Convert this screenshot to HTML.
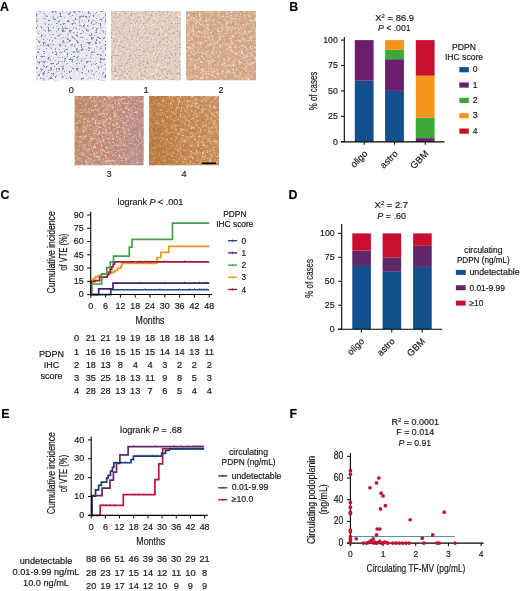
<!DOCTYPE html>
<html><head><meta charset="utf-8"><style>
html,body{margin:0;padding:0;background:#fff;}
body{width:520px;height:591px;overflow:hidden;}
svg{display:block;font-family:"Liberation Sans",sans-serif;filter:blur(0.35px);}
text{stroke:#161616;stroke-width:0.18px;}
</style></head><body>
<svg width="520" height="591" viewBox="0 0 520 591">
<defs><filter id="bl" x="0" y="0" width="100%" height="100%"><feGaussianBlur stdDeviation="0.55"/></filter><filter id="tx0" x="0" y="0" width="100%" height="100%"><feTurbulence type="fractalNoise" baseFrequency="0.35" numOctaves="2" seed="21"/><feColorMatrix type="matrix" values="0 0 0 0 0.706  0 0 0 0 0.706  0 0 0 0 0.831  9.0 0 0 0 -4.5"/></filter><filter id="tx1" x="0" y="0" width="100%" height="100%"><feTurbulence type="fractalNoise" baseFrequency="0.42" numOctaves="2" seed="7"/><feColorMatrix type="matrix" values="0 0 0 0 0.204  0 0 0 0 0.212  0 0 0 0 0.416  9.0 0 0 0 -5.175"/></filter><filter id="tx2" x="0" y="0" width="100%" height="100%"><feTurbulence type="fractalNoise" baseFrequency="0.25" numOctaves="2" seed="22"/><feColorMatrix type="matrix" values="0 0 0 0 0.784  0 0 0 0 0.659  0 0 0 0 0.596  9.0 0 0 0 -4.5"/></filter><filter id="tx3" x="0" y="0" width="100%" height="100%"><feTurbulence type="fractalNoise" baseFrequency="0.5" numOctaves="2" seed="2"/><feColorMatrix type="matrix" values="0 0 0 0 0.478  0 0 0 0 0.392  0 0 0 0 0.384  9.0 0 0 0 -5.040000000000001"/></filter><filter id="tx4" x="0" y="0" width="100%" height="100%"><feTurbulence type="fractalNoise" baseFrequency="0.45" numOctaves="2" seed="32"/><feColorMatrix type="matrix" values="0 0 0 0 0.980  0 0 0 0 0.957  0 0 0 0 0.957  9.0 0 0 0 -5.22"/></filter><filter id="tx5" x="0" y="0" width="100%" height="100%"><feTurbulence type="fractalNoise" baseFrequency="0.25" numOctaves="2" seed="23"/><feColorMatrix type="matrix" values="0 0 0 0 0.784  0 0 0 0 0.580  0 0 0 0 0.424  9.0 0 0 0 -4.41"/></filter><filter id="tx6" x="0" y="0" width="100%" height="100%"><feTurbulence type="fractalNoise" baseFrequency="0.5" numOctaves="2" seed="3"/><feColorMatrix type="matrix" values="0 0 0 0 0.541  0 0 0 0 0.353  0 0 0 0 0.298  9.0 0 0 0 -4.95"/></filter><filter id="tx7" x="0" y="0" width="100%" height="100%"><feTurbulence type="fractalNoise" baseFrequency="0.45" numOctaves="2" seed="33"/><feColorMatrix type="matrix" values="0 0 0 0 0.965  0 0 0 0 0.902  0 0 0 0 0.878  9.0 0 0 0 -5.22"/></filter><filter id="tx8" x="0" y="0" width="100%" height="100%"><feTurbulence type="fractalNoise" baseFrequency="0.25" numOctaves="2" seed="24"/><feColorMatrix type="matrix" values="0 0 0 0 0.690  0 0 0 0 0.478  0 0 0 0 0.353  9.0 0 0 0 -4.32"/></filter><filter id="tx9" x="0" y="0" width="100%" height="100%"><feTurbulence type="fractalNoise" baseFrequency="0.5" numOctaves="2" seed="4"/><feColorMatrix type="matrix" values="0 0 0 0 0.439  0 0 0 0 0.298  0 0 0 0 0.392  9.0 0 0 0 -4.95"/></filter><filter id="tx10" x="0" y="0" width="100%" height="100%"><feTurbulence type="fractalNoise" baseFrequency="0.45" numOctaves="2" seed="34"/><feColorMatrix type="matrix" values="0 0 0 0 0.941  0 0 0 0 0.863  0 0 0 0 0.863  9.0 0 0 0 -5.22"/></filter><linearGradient id="g3" x1="0" y1="0" x2="1" y2="0.3"><stop offset="0" stop-color="#b8743c" stop-opacity="0.35"/><stop offset="0.45" stop-color="#b8743c" stop-opacity="0"/><stop offset="0.6" stop-color="#a888a8" stop-opacity="0"/><stop offset="1" stop-color="#a888a8" stop-opacity="0.3"/></linearGradient><filter id="tx11" x="0" y="0" width="100%" height="100%"><feTurbulence type="fractalNoise" baseFrequency="0.25" numOctaves="2" seed="25"/><feColorMatrix type="matrix" values="0 0 0 0 0.659  0 0 0 0 0.408  0 0 0 0 0.180  9.0 0 0 0 -4.32"/></filter><filter id="tx12" x="0" y="0" width="100%" height="100%"><feTurbulence type="fractalNoise" baseFrequency="0.5" numOctaves="2" seed="5"/><feColorMatrix type="matrix" values="0 0 0 0 0.416  0 0 0 0 0.267  0 0 0 0 0.188  9.0 0 0 0 -4.95"/></filter><filter id="tx13" x="0" y="0" width="100%" height="100%"><feTurbulence type="fractalNoise" baseFrequency="0.45" numOctaves="2" seed="35"/><feColorMatrix type="matrix" values="0 0 0 0 0.925  0 0 0 0 0.816  0 0 0 0 0.643  9.0 0 0 0 -5.22"/></filter><linearGradient id="g4" x1="0" y1="0" x2="1" y2="-0.2"><stop offset="0" stop-color="#a86420" stop-opacity="0.35"/><stop offset="0.4" stop-color="#a86420" stop-opacity="0"/><stop offset="0.6" stop-color="#e0b0a0" stop-opacity="0"/><stop offset="1" stop-color="#e0b0a0" stop-opacity="0.3"/></linearGradient></defs>
<text transform="translate(0.00,10.60)" font-size="12.4" font-weight="bold" fill="#000">A</text>
<svg x="36" y="11" width="70" height="69.5"><g filter="url(#bl)">
<rect x="0.00" y="0.00" width="70.00" height="69.50" fill="#ececf2"/>
<rect x="0" y="0" width="70" height="69.5" fill="#000" filter="url(#tx0)" opacity="0.4"/>
<rect x="0" y="0" width="70" height="69.5" fill="#000" filter="url(#tx1)" opacity="0.95"/>
</g></svg>
<svg x="111" y="11" width="70" height="69.5"><g filter="url(#bl)">
<rect x="0.00" y="0.00" width="70.00" height="69.50" fill="#e3cebd"/>
<rect x="0" y="0" width="70" height="69.5" fill="#000" filter="url(#tx2)" opacity="0.5"/>
<rect x="0" y="0" width="70" height="69.5" fill="#000" filter="url(#tx3)" opacity="0.8"/>
<rect x="0" y="0" width="70" height="69.5" fill="#000" filter="url(#tx4)" opacity="0.5"/>
</g></svg>
<svg x="186" y="11" width="70" height="69.5"><g filter="url(#bl)">
<rect x="0.00" y="0.00" width="70.00" height="69.50" fill="#d5a783"/>
<rect x="0" y="0" width="70" height="69.5" fill="#000" filter="url(#tx5)" opacity="0.6"/>
<rect x="0" y="0" width="70" height="69.5" fill="#000" filter="url(#tx6)" opacity="0.8"/>
<rect x="0" y="0" width="70" height="69.5" fill="#000" filter="url(#tx7)" opacity="0.55"/>
</g></svg>
<svg x="74.4" y="96" width="69.4" height="69.4"><g filter="url(#bl)">
<rect x="0.00" y="0.00" width="69.40" height="69.40" fill="#c58968"/>
<rect x="0" y="0" width="69.4" height="69.4" fill="#000" filter="url(#tx8)" opacity="0.6"/>
<rect x="0" y="0" width="69.4" height="69.4" fill="#000" filter="url(#tx9)" opacity="0.8"/>
<rect x="0" y="0" width="69.4" height="69.4" fill="#000" filter="url(#tx10)" opacity="0.55"/>
<rect x="0.00" y="0.00" width="69.40" height="69.40" fill="url(#g3)"/>
</g></svg>
<svg x="149" y="96" width="70" height="69.4"><g filter="url(#bl)">
<rect x="0.00" y="0.00" width="70.00" height="69.40" fill="#c78248"/>
<rect x="0" y="0" width="70" height="69.4" fill="#000" filter="url(#tx11)" opacity="0.65"/>
<rect x="0" y="0" width="70" height="69.4" fill="#000" filter="url(#tx12)" opacity="0.8"/>
<rect x="0" y="0" width="70" height="69.4" fill="#000" filter="url(#tx13)" opacity="0.55"/>
<rect x="0.00" y="0.00" width="70.00" height="69.40" fill="url(#g4)"/>
</g></svg>
<text transform="translate(71.30,92.80) scale(0.95,1)" font-size="9.6" text-anchor="middle" fill="#222">0</text>
<text transform="translate(146.00,92.80) scale(0.95,1)" font-size="9.6" text-anchor="middle" fill="#222">1</text>
<text transform="translate(221.00,92.80) scale(0.95,1)" font-size="9.6" text-anchor="middle" fill="#222">2</text>
<text transform="translate(109.10,177.30) scale(0.95,1)" font-size="9.6" text-anchor="middle" fill="#222">3</text>
<text transform="translate(184.00,177.30) scale(0.95,1)" font-size="9.6" text-anchor="middle" fill="#222">4</text>
<line x1="202.00" y1="163.30" x2="216.20" y2="163.30" stroke="#000" stroke-width="1.6"/>
<text transform="translate(289.20,10.80)" font-size="12.4" font-weight="bold" fill="#000">B</text>
<text transform="translate(375.30,20.90)" font-size="9.3" fill="#161616" textLength="38.80" lengthAdjust="spacingAndGlyphs">X<tspan dy="-3.2" font-size="5.8">2</tspan><tspan dy="3.2"> = 86.9</tspan></text>
<text transform="translate(378.00,30.90)" font-size="9.3" fill="#161616" textLength="32.60" lengthAdjust="spacingAndGlyphs"><tspan font-style="italic">P</tspan> &lt; .001</text>
<rect x="354.80" y="80.74" width="18.80" height="60.96" fill="#124f8c"/>
<rect x="354.80" y="40.10" width="18.80" height="40.64" fill="#6a1f6d"/>
<rect x="385.10" y="90.90" width="18.80" height="50.80" fill="#124f8c"/>
<rect x="385.10" y="59.20" width="18.80" height="31.70" fill="#6a1f6d"/>
<rect x="385.10" y="49.85" width="18.80" height="9.35" fill="#3ba935"/>
<rect x="385.10" y="40.10" width="18.80" height="9.75" fill="#f7941d"/>
<rect x="415.80" y="138.14" width="18.80" height="3.56" fill="#6a1f6d"/>
<rect x="415.80" y="117.82" width="18.80" height="20.32" fill="#3ba935"/>
<rect x="415.80" y="75.66" width="18.80" height="42.16" fill="#f7941d"/>
<rect x="415.80" y="40.10" width="18.80" height="35.56" fill="#c8102e"/>
<line x1="344.30" y1="37.00" x2="344.30" y2="142.20" stroke="#000" stroke-width="1.1"/>
<line x1="341.00" y1="141.90" x2="444.50" y2="141.90" stroke="#000" stroke-width="1.1"/>
<line x1="341.00" y1="141.70" x2="344.30" y2="141.70" stroke="#000" stroke-width="1"/>
<text transform="translate(337.80,144.60) scale(0.95,1)" font-size="9.2" text-anchor="end" fill="#161616">0</text>
<line x1="341.00" y1="116.30" x2="344.30" y2="116.30" stroke="#000" stroke-width="1"/>
<text transform="translate(337.80,119.20) scale(0.95,1)" font-size="9.2" text-anchor="end" fill="#161616">25</text>
<line x1="341.00" y1="90.90" x2="344.30" y2="90.90" stroke="#000" stroke-width="1"/>
<text transform="translate(337.80,93.80) scale(0.95,1)" font-size="9.2" text-anchor="end" fill="#161616">50</text>
<line x1="341.00" y1="65.50" x2="344.30" y2="65.50" stroke="#000" stroke-width="1"/>
<text transform="translate(337.80,68.40) scale(0.95,1)" font-size="9.2" text-anchor="end" fill="#161616">75</text>
<line x1="341.00" y1="40.10" x2="344.30" y2="40.10" stroke="#000" stroke-width="1"/>
<text transform="translate(337.80,43.00) scale(0.95,1)" font-size="9.2" text-anchor="end" fill="#161616">100</text>
<line x1="364.20" y1="141.90" x2="364.20" y2="144.80" stroke="#000" stroke-width="1"/>
<line x1="394.50" y1="141.90" x2="394.50" y2="144.80" stroke="#000" stroke-width="1"/>
<line x1="425.20" y1="141.90" x2="425.20" y2="144.80" stroke="#000" stroke-width="1"/>
<text transform="translate(316.50,91.00) rotate(-90)" font-size="11" text-anchor="middle" fill="#161616" textLength="38.50" lengthAdjust="spacingAndGlyphs">% of cases</text>
<text transform="translate(368.20,154.30) rotate(-45)" font-size="9.4" text-anchor="end" fill="#161616">oligo</text>
<text transform="translate(398.50,154.30) rotate(-45)" font-size="9.4" text-anchor="end" fill="#161616">astro</text>
<text transform="translate(429.20,154.30) rotate(-45)" font-size="9.4" text-anchor="end" fill="#161616">GBM</text>
<text transform="translate(464.00,49.50)" font-size="8.6" text-anchor="middle" fill="#161616">PDPN</text>
<text transform="translate(464.00,60.00)" font-size="8.6" text-anchor="middle" fill="#161616">IHC score</text>
<rect x="459.30" y="67.10" width="9.50" height="5.20" fill="#124f8c"/>
<text transform="translate(472.70,72.40)" font-size="8.6" fill="#161616">0</text>
<rect x="459.30" y="82.45" width="9.50" height="5.20" fill="#6a1f6d"/>
<text transform="translate(472.70,87.75)" font-size="8.6" fill="#161616">1</text>
<rect x="459.30" y="97.80" width="9.50" height="5.20" fill="#3ba935"/>
<text transform="translate(472.70,103.10)" font-size="8.6" fill="#161616">2</text>
<rect x="459.30" y="113.15" width="9.50" height="5.20" fill="#f7941d"/>
<text transform="translate(472.70,118.45)" font-size="8.6" fill="#161616">3</text>
<rect x="459.30" y="128.50" width="9.50" height="5.20" fill="#c8102e"/>
<text transform="translate(472.70,133.80)" font-size="8.6" fill="#161616">4</text>
<text transform="translate(0.40,198.60)" font-size="12.4" font-weight="bold" fill="#000">C</text>
<text transform="translate(117.40,204.60)" font-size="9.6" fill="#161616" textLength="65.80" lengthAdjust="spacingAndGlyphs">logrank <tspan font-style="italic">P</tspan> &lt; .001</text>
<path d="M90.80,294.60 L110.78,294.60 L110.78,289.74 L209.22,289.74" fill="none" stroke="#1e4a85" stroke-width="1.7" stroke-linejoin="miter" stroke-linecap="butt"/>
<path d="M90.80,294.60 L98.69,294.60 L98.69,288.85 L113.00,288.85 L113.00,283.10 L209.22,283.10" fill="none" stroke="#43236e" stroke-width="1.7" stroke-linejoin="miter" stroke-linecap="butt"/>
<path d="M90.80,294.60 L91.29,294.60 L91.29,280.45 L93.27,280.45 L93.27,278.68 L95.49,278.68 L95.49,276.91 L97.95,276.91 L97.95,275.59 L101.16,275.59 L101.16,274.26 L109.06,274.26 L109.06,273.37 L112.02,273.37 L112.02,272.05 L114.73,272.05 L114.73,270.72 L117.44,270.72 L117.44,268.33 L120.90,268.33 L120.90,266.03 L121.88,266.03 L121.88,263.47 L156.92,263.47 L156.92,257.72 L160.86,257.72 L160.86,252.33 L168.76,252.33 L168.76,246.40 L209.22,246.40" fill="none" stroke="#e89a25" stroke-width="1.7" stroke-linejoin="miter" stroke-linecap="butt"/>
<path d="M90.80,294.60 L91.29,294.60 L91.29,281.60 L94.75,281.60 L94.75,280.71 L99.68,280.71 L99.68,277.18 L107.33,277.18 L107.33,274.70 L108.81,274.70 L108.81,272.05 L110.29,272.05 L110.29,269.39 L111.77,269.39 L111.77,266.74 L113.25,266.74 L113.25,264.09 L114.48,264.09 L114.48,261.79 L209.22,261.79" fill="none" stroke="#a8163c" stroke-width="1.7" stroke-linejoin="miter" stroke-linecap="butt"/>
<path d="M90.80,294.60 L91.79,294.60 L91.79,283.99 L101.65,283.99 L101.65,273.91 L106.84,273.91 L106.84,267.71 L110.29,267.71 L110.29,262.14 L113.50,262.14 L113.50,256.22 L129.29,256.22 L129.29,247.11 L132.00,247.11 L132.00,239.41 L172.46,239.41 L172.46,223.14 L209.22,223.14" fill="none" stroke="#45a047" stroke-width="1.7" stroke-linejoin="miter" stroke-linecap="butt"/>
<line x1="90.70" y1="211.80" x2="90.70" y2="295.20" stroke="#000" stroke-width="1.1"/>
<line x1="90.20" y1="294.50" x2="212.00" y2="294.50" stroke="#000" stroke-width="1.1"/>
<line x1="87.20" y1="294.60" x2="90.70" y2="294.60" stroke="#000" stroke-width="1"/>
<text transform="translate(83.60,297.30) scale(0.96,1)" font-size="9.3" text-anchor="end" fill="#161616">0</text>
<line x1="87.20" y1="281.33" x2="90.70" y2="281.33" stroke="#000" stroke-width="1"/>
<text transform="translate(83.60,284.03) scale(0.96,1)" font-size="9.3" text-anchor="end" fill="#161616">15</text>
<line x1="87.20" y1="268.07" x2="90.70" y2="268.07" stroke="#000" stroke-width="1"/>
<text transform="translate(83.60,270.77) scale(0.96,1)" font-size="9.3" text-anchor="end" fill="#161616">30</text>
<line x1="87.20" y1="254.80" x2="90.70" y2="254.80" stroke="#000" stroke-width="1"/>
<text transform="translate(83.60,257.50) scale(0.96,1)" font-size="9.3" text-anchor="end" fill="#161616">45</text>
<line x1="87.20" y1="241.54" x2="90.70" y2="241.54" stroke="#000" stroke-width="1"/>
<text transform="translate(83.60,244.24) scale(0.96,1)" font-size="9.3" text-anchor="end" fill="#161616">60</text>
<line x1="87.20" y1="228.27" x2="90.70" y2="228.27" stroke="#000" stroke-width="1"/>
<text transform="translate(83.60,230.97) scale(0.96,1)" font-size="9.3" text-anchor="end" fill="#161616">75</text>
<line x1="87.20" y1="215.00" x2="90.70" y2="215.00" stroke="#000" stroke-width="1"/>
<text transform="translate(83.60,217.70) scale(0.96,1)" font-size="9.3" text-anchor="end" fill="#161616">90</text>
<line x1="90.80" y1="294.70" x2="90.80" y2="297.60" stroke="#000" stroke-width="1"/>
<text transform="translate(90.80,308.60) scale(0.97,1)" font-size="9.2" text-anchor="middle" fill="#161616">0</text>
<line x1="105.60" y1="294.70" x2="105.60" y2="297.60" stroke="#000" stroke-width="1"/>
<text transform="translate(105.60,308.60) scale(0.97,1)" font-size="9.2" text-anchor="middle" fill="#161616">6</text>
<line x1="120.40" y1="294.70" x2="120.40" y2="297.60" stroke="#000" stroke-width="1"/>
<text transform="translate(120.40,308.60) scale(0.97,1)" font-size="9.2" text-anchor="middle" fill="#161616">12</text>
<line x1="135.21" y1="294.70" x2="135.21" y2="297.60" stroke="#000" stroke-width="1"/>
<text transform="translate(135.21,308.60) scale(0.97,1)" font-size="9.2" text-anchor="middle" fill="#161616">18</text>
<line x1="150.01" y1="294.70" x2="150.01" y2="297.60" stroke="#000" stroke-width="1"/>
<text transform="translate(150.01,308.60) scale(0.97,1)" font-size="9.2" text-anchor="middle" fill="#161616">24</text>
<line x1="164.81" y1="294.70" x2="164.81" y2="297.60" stroke="#000" stroke-width="1"/>
<text transform="translate(164.81,308.60) scale(0.97,1)" font-size="9.2" text-anchor="middle" fill="#161616">30</text>
<line x1="179.61" y1="294.70" x2="179.61" y2="297.60" stroke="#000" stroke-width="1"/>
<text transform="translate(179.61,308.60) scale(0.97,1)" font-size="9.2" text-anchor="middle" fill="#161616">36</text>
<line x1="194.41" y1="294.70" x2="194.41" y2="297.60" stroke="#000" stroke-width="1"/>
<text transform="translate(194.41,308.60) scale(0.97,1)" font-size="9.2" text-anchor="middle" fill="#161616">42</text>
<line x1="209.22" y1="294.70" x2="209.22" y2="297.60" stroke="#000" stroke-width="1"/>
<text transform="translate(209.22,308.60) scale(0.97,1)" font-size="9.2" text-anchor="middle" fill="#161616">48</text>
<text transform="translate(150.00,323.80)" font-size="10.4" text-anchor="middle" fill="#161616" textLength="28.80" lengthAdjust="spacingAndGlyphs">Months</text>
<text transform="translate(54.80,252.40) rotate(-90)" font-size="10.3" text-anchor="middle" fill="#161616" textLength="82.20" lengthAdjust="spacingAndGlyphs">Cumulative incidence</text>
<text transform="translate(67.30,252.20) rotate(-90)" font-size="10.3" text-anchor="middle" fill="#161616" textLength="36.80" lengthAdjust="spacingAndGlyphs">of VTE (%)</text>
<text transform="translate(234.80,216.90)" font-size="8.4" text-anchor="middle" fill="#161616">PDPN</text>
<text transform="translate(234.80,227.30)" font-size="8.4" text-anchor="middle" fill="#161616">IHC score</text>
<line x1="228.10" y1="240.70" x2="237.10" y2="240.70" stroke="#1e4a85" stroke-width="1.4"/>
<line x1="232.60" y1="239.50" x2="232.60" y2="241.90" stroke="#1e4a85" stroke-width="0.8"/>
<text transform="translate(241.50,243.70)" font-size="8.2" fill="#161616">0</text>
<line x1="228.10" y1="252.90" x2="237.10" y2="252.90" stroke="#43236e" stroke-width="1.4"/>
<line x1="232.60" y1="251.70" x2="232.60" y2="254.10" stroke="#43236e" stroke-width="0.8"/>
<text transform="translate(241.50,255.90)" font-size="8.2" fill="#161616">1</text>
<line x1="228.10" y1="265.10" x2="237.10" y2="265.10" stroke="#45a047" stroke-width="1.4"/>
<line x1="232.60" y1="263.90" x2="232.60" y2="266.30" stroke="#45a047" stroke-width="0.8"/>
<text transform="translate(241.50,268.10)" font-size="8.2" fill="#161616">2</text>
<line x1="228.10" y1="277.30" x2="237.10" y2="277.30" stroke="#e89a25" stroke-width="1.4"/>
<line x1="232.60" y1="276.10" x2="232.60" y2="278.50" stroke="#e89a25" stroke-width="0.8"/>
<text transform="translate(241.50,280.30)" font-size="8.2" fill="#161616">3</text>
<line x1="228.10" y1="289.50" x2="237.10" y2="289.50" stroke="#a8163c" stroke-width="1.4"/>
<line x1="232.60" y1="288.30" x2="232.60" y2="290.70" stroke="#a8163c" stroke-width="0.8"/>
<text transform="translate(241.50,292.50)" font-size="8.2" fill="#161616">4</text>
<text transform="translate(76.50,340.80)" font-size="9.2" text-anchor="middle" fill="#161616">0</text>
<text transform="translate(90.80,340.80)" font-size="9.2" text-anchor="middle" fill="#161616">21</text>
<text transform="translate(105.60,340.80)" font-size="9.2" text-anchor="middle" fill="#161616">21</text>
<text transform="translate(120.40,340.80)" font-size="9.2" text-anchor="middle" fill="#161616">19</text>
<text transform="translate(135.21,340.80)" font-size="9.2" text-anchor="middle" fill="#161616">19</text>
<text transform="translate(150.01,340.80)" font-size="9.2" text-anchor="middle" fill="#161616">18</text>
<text transform="translate(164.81,340.80)" font-size="9.2" text-anchor="middle" fill="#161616">18</text>
<text transform="translate(179.61,340.80)" font-size="9.2" text-anchor="middle" fill="#161616">18</text>
<text transform="translate(194.41,340.80)" font-size="9.2" text-anchor="middle" fill="#161616">18</text>
<text transform="translate(209.22,340.80)" font-size="9.2" text-anchor="middle" fill="#161616">14</text>
<text transform="translate(76.50,354.60)" font-size="9.2" text-anchor="middle" fill="#161616">1</text>
<text transform="translate(90.80,354.60)" font-size="9.2" text-anchor="middle" fill="#161616">16</text>
<text transform="translate(105.60,354.60)" font-size="9.2" text-anchor="middle" fill="#161616">16</text>
<text transform="translate(120.40,354.60)" font-size="9.2" text-anchor="middle" fill="#161616">15</text>
<text transform="translate(135.21,354.60)" font-size="9.2" text-anchor="middle" fill="#161616">15</text>
<text transform="translate(150.01,354.60)" font-size="9.2" text-anchor="middle" fill="#161616">15</text>
<text transform="translate(164.81,354.60)" font-size="9.2" text-anchor="middle" fill="#161616">14</text>
<text transform="translate(179.61,354.60)" font-size="9.2" text-anchor="middle" fill="#161616">14</text>
<text transform="translate(194.41,354.60)" font-size="9.2" text-anchor="middle" fill="#161616">13</text>
<text transform="translate(209.22,354.60)" font-size="9.2" text-anchor="middle" fill="#161616">11</text>
<text transform="translate(76.50,367.70)" font-size="9.2" text-anchor="middle" fill="#161616">2</text>
<text transform="translate(90.80,367.70)" font-size="9.2" text-anchor="middle" fill="#161616">18</text>
<text transform="translate(105.60,367.70)" font-size="9.2" text-anchor="middle" fill="#161616">13</text>
<text transform="translate(120.40,367.70)" font-size="9.2" text-anchor="middle" fill="#161616">8</text>
<text transform="translate(135.21,367.70)" font-size="9.2" text-anchor="middle" fill="#161616">4</text>
<text transform="translate(150.01,367.70)" font-size="9.2" text-anchor="middle" fill="#161616">4</text>
<text transform="translate(164.81,367.70)" font-size="9.2" text-anchor="middle" fill="#161616">3</text>
<text transform="translate(179.61,367.70)" font-size="9.2" text-anchor="middle" fill="#161616">2</text>
<text transform="translate(194.41,367.70)" font-size="9.2" text-anchor="middle" fill="#161616">2</text>
<text transform="translate(209.22,367.70)" font-size="9.2" text-anchor="middle" fill="#161616">2</text>
<text transform="translate(76.50,380.80)" font-size="9.2" text-anchor="middle" fill="#161616">3</text>
<text transform="translate(90.80,380.80)" font-size="9.2" text-anchor="middle" fill="#161616">35</text>
<text transform="translate(105.60,380.80)" font-size="9.2" text-anchor="middle" fill="#161616">25</text>
<text transform="translate(120.40,380.80)" font-size="9.2" text-anchor="middle" fill="#161616">18</text>
<text transform="translate(135.21,380.80)" font-size="9.2" text-anchor="middle" fill="#161616">13</text>
<text transform="translate(150.01,380.80)" font-size="9.2" text-anchor="middle" fill="#161616">11</text>
<text transform="translate(164.81,380.80)" font-size="9.2" text-anchor="middle" fill="#161616">9</text>
<text transform="translate(179.61,380.80)" font-size="9.2" text-anchor="middle" fill="#161616">8</text>
<text transform="translate(194.41,380.80)" font-size="9.2" text-anchor="middle" fill="#161616">5</text>
<text transform="translate(209.22,380.80)" font-size="9.2" text-anchor="middle" fill="#161616">3</text>
<text transform="translate(76.50,394.30)" font-size="9.2" text-anchor="middle" fill="#161616">4</text>
<text transform="translate(90.80,394.30)" font-size="9.2" text-anchor="middle" fill="#161616">28</text>
<text transform="translate(105.60,394.30)" font-size="9.2" text-anchor="middle" fill="#161616">28</text>
<text transform="translate(120.40,394.30)" font-size="9.2" text-anchor="middle" fill="#161616">13</text>
<text transform="translate(135.21,394.30)" font-size="9.2" text-anchor="middle" fill="#161616">13</text>
<text transform="translate(150.01,394.30)" font-size="9.2" text-anchor="middle" fill="#161616">7</text>
<text transform="translate(164.81,394.30)" font-size="9.2" text-anchor="middle" fill="#161616">6</text>
<text transform="translate(179.61,394.30)" font-size="9.2" text-anchor="middle" fill="#161616">5</text>
<text transform="translate(194.41,394.30)" font-size="9.2" text-anchor="middle" fill="#161616">4</text>
<text transform="translate(209.22,394.30)" font-size="9.2" text-anchor="middle" fill="#161616">4</text>
<text transform="translate(51.50,357.00)" font-size="9" text-anchor="middle" fill="#161616">PDPN</text>
<text transform="translate(51.50,367.70)" font-size="9" text-anchor="middle" fill="#161616">IHC</text>
<text transform="translate(51.50,379.20)" font-size="9" text-anchor="middle" fill="#161616">score</text>
<line x1="145.07" y1="288.34" x2="145.07" y2="290.04" stroke="#1e4a85" stroke-width="0.8"/>
<line x1="159.88" y1="288.34" x2="159.88" y2="290.04" stroke="#1e4a85" stroke-width="0.8"/>
<line x1="179.61" y1="288.34" x2="179.61" y2="290.04" stroke="#1e4a85" stroke-width="0.8"/>
<line x1="189.48" y1="288.34" x2="189.48" y2="290.04" stroke="#1e4a85" stroke-width="0.8"/>
<line x1="194.41" y1="288.34" x2="194.41" y2="290.04" stroke="#1e4a85" stroke-width="0.8"/>
<line x1="199.35" y1="288.34" x2="199.35" y2="290.04" stroke="#1e4a85" stroke-width="0.8"/>
<line x1="201.81" y1="288.34" x2="201.81" y2="290.04" stroke="#1e4a85" stroke-width="0.8"/>
<line x1="204.28" y1="288.34" x2="204.28" y2="290.04" stroke="#1e4a85" stroke-width="0.8"/>
<line x1="206.75" y1="288.34" x2="206.75" y2="290.04" stroke="#1e4a85" stroke-width="0.8"/>
<line x1="140.14" y1="281.70" x2="140.14" y2="283.40" stroke="#43236e" stroke-width="0.8"/>
<line x1="164.81" y1="281.70" x2="164.81" y2="283.40" stroke="#43236e" stroke-width="0.8"/>
<line x1="184.55" y1="281.70" x2="184.55" y2="283.40" stroke="#43236e" stroke-width="0.8"/>
<line x1="194.41" y1="281.70" x2="194.41" y2="283.40" stroke="#43236e" stroke-width="0.8"/>
<line x1="199.35" y1="281.70" x2="199.35" y2="283.40" stroke="#43236e" stroke-width="0.8"/>
<line x1="204.28" y1="281.70" x2="204.28" y2="283.40" stroke="#43236e" stroke-width="0.8"/>
<line x1="206.75" y1="281.70" x2="206.75" y2="283.40" stroke="#43236e" stroke-width="0.8"/>
<line x1="140.14" y1="260.39" x2="140.14" y2="262.09" stroke="#a8163c" stroke-width="0.8"/>
<line x1="145.07" y1="260.39" x2="145.07" y2="262.09" stroke="#a8163c" stroke-width="0.8"/>
<line x1="150.01" y1="260.39" x2="150.01" y2="262.09" stroke="#a8163c" stroke-width="0.8"/>
<line x1="164.81" y1="260.39" x2="164.81" y2="262.09" stroke="#a8163c" stroke-width="0.8"/>
<line x1="184.55" y1="260.39" x2="184.55" y2="262.09" stroke="#a8163c" stroke-width="0.8"/>
<line x1="125.34" y1="262.07" x2="125.34" y2="263.77" stroke="#e89a25" stroke-width="0.8"/>
<line x1="135.21" y1="262.07" x2="135.21" y2="263.77" stroke="#e89a25" stroke-width="0.8"/>
<line x1="145.07" y1="262.07" x2="145.07" y2="263.77" stroke="#e89a25" stroke-width="0.8"/>
<line x1="154.94" y1="262.07" x2="154.94" y2="263.77" stroke="#e89a25" stroke-width="0.8"/>
<text transform="translate(288.40,198.70)" font-size="12.4" font-weight="bold" fill="#000">D</text>
<text transform="translate(374.60,207.90)" font-size="9.3" fill="#161616" textLength="33.40" lengthAdjust="spacingAndGlyphs">X<tspan dy="-3.2" font-size="5.8">2</tspan><tspan dy="3.2"> = 2.7</tspan></text>
<text transform="translate(377.30,218.70)" font-size="9.3" fill="#161616" textLength="28.60" lengthAdjust="spacingAndGlyphs"><tspan font-style="italic">P</tspan> = .60</text>
<rect x="352.30" y="265.97" width="18.60" height="63.23" fill="#124f8c"/>
<rect x="352.30" y="250.64" width="18.60" height="15.33" fill="#5e2869"/>
<rect x="352.30" y="233.40" width="18.60" height="17.24" fill="#c8102e"/>
<rect x="382.60" y="271.72" width="18.60" height="57.48" fill="#124f8c"/>
<rect x="382.60" y="257.35" width="18.60" height="14.37" fill="#5e2869"/>
<rect x="382.60" y="233.40" width="18.60" height="23.95" fill="#c8102e"/>
<rect x="413.10" y="266.93" width="18.60" height="62.27" fill="#124f8c"/>
<rect x="413.10" y="245.85" width="18.60" height="21.08" fill="#5e2869"/>
<rect x="413.10" y="233.40" width="18.60" height="12.45" fill="#c8102e"/>
<line x1="341.70" y1="224.00" x2="341.70" y2="329.70" stroke="#000" stroke-width="1.1"/>
<line x1="337.90" y1="329.20" x2="442.10" y2="329.20" stroke="#000" stroke-width="1.1"/>
<line x1="338.20" y1="329.20" x2="341.70" y2="329.20" stroke="#000" stroke-width="1"/>
<text transform="translate(334.60,332.10) scale(0.95,1)" font-size="9.2" text-anchor="end" fill="#161616">0</text>
<line x1="338.20" y1="305.25" x2="341.70" y2="305.25" stroke="#000" stroke-width="1"/>
<text transform="translate(334.60,308.15) scale(0.95,1)" font-size="9.2" text-anchor="end" fill="#161616">25</text>
<line x1="338.20" y1="281.30" x2="341.70" y2="281.30" stroke="#000" stroke-width="1"/>
<text transform="translate(334.60,284.20) scale(0.95,1)" font-size="9.2" text-anchor="end" fill="#161616">50</text>
<line x1="338.20" y1="257.35" x2="341.70" y2="257.35" stroke="#000" stroke-width="1"/>
<text transform="translate(334.60,260.25) scale(0.95,1)" font-size="9.2" text-anchor="end" fill="#161616">75</text>
<line x1="338.20" y1="233.40" x2="341.70" y2="233.40" stroke="#000" stroke-width="1"/>
<text transform="translate(334.60,236.30) scale(0.95,1)" font-size="9.2" text-anchor="end" fill="#161616">100</text>
<line x1="361.30" y1="329.20" x2="361.30" y2="332.60" stroke="#000" stroke-width="1"/>
<line x1="391.80" y1="329.20" x2="391.80" y2="332.60" stroke="#000" stroke-width="1"/>
<line x1="422.20" y1="329.20" x2="422.20" y2="332.60" stroke="#000" stroke-width="1"/>
<text transform="translate(313.20,278.40) rotate(-90)" font-size="11" text-anchor="middle" fill="#161616" textLength="38.50" lengthAdjust="spacingAndGlyphs">% of cases</text>
<text transform="translate(364.90,341.90) rotate(-45)" font-size="9.3" text-anchor="end" fill="#161616">oligo</text>
<text transform="translate(395.40,341.90) rotate(-45)" font-size="9.3" text-anchor="end" fill="#161616">astro</text>
<text transform="translate(425.80,341.90) rotate(-45)" font-size="9.3" text-anchor="end" fill="#161616">GBM</text>
<text transform="translate(483.30,252.70)" font-size="8.4" text-anchor="middle" fill="#161616" textLength="38.20" lengthAdjust="spacingAndGlyphs">circulating</text>
<text transform="translate(483.30,262.80)" font-size="8.4" text-anchor="middle" fill="#161616" textLength="52.80" lengthAdjust="spacingAndGlyphs">PDPN (ng/mL)</text>
<rect x="455.90" y="269.90" width="9.80" height="5.00" fill="#124f8c"/>
<text transform="translate(469.40,275.30)" font-size="8.4" fill="#161616" textLength="50.20" lengthAdjust="spacingAndGlyphs">undetectable</text>
<rect x="455.90" y="285.25" width="9.80" height="5.00" fill="#5e2869"/>
<text transform="translate(469.40,290.65)" font-size="8.4" fill="#161616">0.01-9.99</text>
<rect x="455.90" y="300.60" width="9.80" height="5.00" fill="#c8102e"/>
<text transform="translate(469.40,306.00)" font-size="8.4" fill="#161616">≥10</text>
<text transform="translate(1.20,417.70)" font-size="12.4" font-weight="bold" fill="#000">E</text>
<text transform="translate(120.10,432.80)" font-size="9.6" fill="#161616" textLength="61.80" lengthAdjust="spacingAndGlyphs">logrank <tspan font-style="italic">P</tspan> = .68</text>
<path d="M91.20,515.40 L100.13,515.40 L100.13,505.40 L123.29,505.40 L123.29,494.64 L154.90,494.64 L154.90,479.54 L158.77,479.54 L158.77,463.87 L162.63,463.87 L162.63,448.77 L204.13,448.77" fill="none" stroke="#be1440" stroke-width="1.7" stroke-linejoin="miter" stroke-linecap="butt"/>
<path d="M91.20,515.40 L91.92,515.40 L91.92,495.58 L102.06,495.58 L102.06,488.22 L110.02,488.22 L110.02,480.10 L113.40,480.10 L113.40,472.18 L116.54,472.18 L116.54,463.49 L119.92,463.49 L119.92,454.81 L128.12,454.81 L128.12,446.69 L204.13,446.69" fill="none" stroke="#5e2a6c" stroke-width="1.7" stroke-linejoin="miter" stroke-linecap="butt"/>
<path d="M91.20,515.40 L91.92,515.40 L91.92,496.15 L95.54,496.15 L95.54,489.92 L98.68,489.92 L98.68,485.39 L101.33,485.39 L101.33,482.18 L106.64,482.18 L106.64,478.22 L108.09,478.22 L108.09,475.38 L110.50,475.38 L110.50,471.04 L112.43,471.04 L112.43,467.27 L113.88,467.27 L113.88,462.74 L131.02,462.74 L131.02,459.53 L133.43,459.53 L133.43,456.13 L161.66,456.13 L161.66,453.30 L165.52,453.30 L165.52,450.47 L169.38,450.47 L169.38,448.96 L204.13,448.96" fill="none" stroke="#1f3a72" stroke-width="1.7" stroke-linejoin="miter" stroke-linecap="butt"/>
<line x1="91.20" y1="436.80" x2="91.20" y2="515.90" stroke="#000" stroke-width="1.1"/>
<line x1="88.20" y1="515.40" x2="207.80" y2="515.40" stroke="#000" stroke-width="1.1"/>
<line x1="88.00" y1="515.40" x2="91.20" y2="515.40" stroke="#000" stroke-width="1"/>
<text transform="translate(84.10,518.10) scale(0.96,1)" font-size="9.3" text-anchor="end" fill="#161616">0</text>
<line x1="88.00" y1="496.52" x2="91.20" y2="496.52" stroke="#000" stroke-width="1"/>
<text transform="translate(84.10,499.22) scale(0.96,1)" font-size="9.3" text-anchor="end" fill="#161616">10</text>
<line x1="88.00" y1="477.65" x2="91.20" y2="477.65" stroke="#000" stroke-width="1"/>
<text transform="translate(84.10,480.35) scale(0.96,1)" font-size="9.3" text-anchor="end" fill="#161616">20</text>
<line x1="88.00" y1="458.77" x2="91.20" y2="458.77" stroke="#000" stroke-width="1"/>
<text transform="translate(84.10,461.47) scale(0.96,1)" font-size="9.3" text-anchor="end" fill="#161616">30</text>
<line x1="88.00" y1="439.90" x2="91.20" y2="439.90" stroke="#000" stroke-width="1"/>
<text transform="translate(84.10,442.60) scale(0.96,1)" font-size="9.3" text-anchor="end" fill="#161616">40</text>
<line x1="91.20" y1="515.40" x2="91.20" y2="518.50" stroke="#000" stroke-width="1"/>
<text transform="translate(91.20,529.70) scale(0.97,1)" font-size="9.2" text-anchor="middle" fill="#161616">0</text>
<line x1="105.38" y1="515.40" x2="105.38" y2="518.50" stroke="#000" stroke-width="1"/>
<text transform="translate(105.38,529.70) scale(0.97,1)" font-size="9.2" text-anchor="middle" fill="#161616">6</text>
<line x1="119.55" y1="515.40" x2="119.55" y2="518.50" stroke="#000" stroke-width="1"/>
<text transform="translate(119.55,529.70) scale(0.97,1)" font-size="9.2" text-anchor="middle" fill="#161616">12</text>
<line x1="133.72" y1="515.40" x2="133.72" y2="518.50" stroke="#000" stroke-width="1"/>
<text transform="translate(133.72,529.70) scale(0.97,1)" font-size="9.2" text-anchor="middle" fill="#161616">18</text>
<line x1="147.90" y1="515.40" x2="147.90" y2="518.50" stroke="#000" stroke-width="1"/>
<text transform="translate(147.90,529.70) scale(0.97,1)" font-size="9.2" text-anchor="middle" fill="#161616">24</text>
<line x1="162.07" y1="515.40" x2="162.07" y2="518.50" stroke="#000" stroke-width="1"/>
<text transform="translate(162.07,529.70) scale(0.97,1)" font-size="9.2" text-anchor="middle" fill="#161616">30</text>
<line x1="176.25" y1="515.40" x2="176.25" y2="518.50" stroke="#000" stroke-width="1"/>
<text transform="translate(176.25,529.70) scale(0.97,1)" font-size="9.2" text-anchor="middle" fill="#161616">36</text>
<line x1="190.43" y1="515.40" x2="190.43" y2="518.50" stroke="#000" stroke-width="1"/>
<text transform="translate(190.43,529.70) scale(0.97,1)" font-size="9.2" text-anchor="middle" fill="#161616">42</text>
<line x1="204.60" y1="515.40" x2="204.60" y2="518.50" stroke="#000" stroke-width="1"/>
<text transform="translate(204.60,529.70) scale(0.97,1)" font-size="9.2" text-anchor="middle" fill="#161616">48</text>
<text transform="translate(150.75,544.60)" font-size="10.4" text-anchor="middle" fill="#161616" textLength="28.80" lengthAdjust="spacingAndGlyphs">Months</text>
<text transform="translate(54.80,473.20) rotate(-90)" font-size="10.3" text-anchor="middle" fill="#161616" textLength="82.20" lengthAdjust="spacingAndGlyphs">Cumulative incidence</text>
<text transform="translate(67.30,473.50) rotate(-90)" font-size="10.3" text-anchor="middle" fill="#161616" textLength="37.40" lengthAdjust="spacingAndGlyphs">of VTE (%)</text>
<text transform="translate(248.50,455.10)" font-size="8.6" text-anchor="middle" fill="#161616" textLength="39.00" lengthAdjust="spacingAndGlyphs">circulating</text>
<text transform="translate(248.60,465.00)" font-size="8.4" text-anchor="middle" fill="#161616" textLength="54.00" lengthAdjust="spacingAndGlyphs">PDPN (ng/mL)</text>
<line x1="218.20" y1="475.90" x2="227.20" y2="475.90" stroke="#1f3a72" stroke-width="1.4"/>
<line x1="222.70" y1="474.70" x2="222.70" y2="477.10" stroke="#1f3a72" stroke-width="0.8"/>
<text transform="translate(231.70,478.50)" font-size="8.7" fill="#161616">undetectable</text>
<line x1="218.20" y1="487.80" x2="227.20" y2="487.80" stroke="#5e2a6c" stroke-width="1.4"/>
<line x1="222.70" y1="486.60" x2="222.70" y2="489.00" stroke="#5e2a6c" stroke-width="0.8"/>
<text transform="translate(231.70,490.40)" font-size="8.7" fill="#161616">0.01-9.99</text>
<line x1="218.20" y1="499.70" x2="227.20" y2="499.70" stroke="#be1440" stroke-width="1.4"/>
<line x1="222.70" y1="498.50" x2="222.70" y2="500.90" stroke="#be1440" stroke-width="0.8"/>
<text transform="translate(231.70,502.30)" font-size="8.7" fill="#161616">≥10.0</text>
<text transform="translate(91.20,562.10)" font-size="9.3" text-anchor="middle" fill="#161616">88</text>
<text transform="translate(105.38,562.10)" font-size="9.3" text-anchor="middle" fill="#161616">66</text>
<text transform="translate(119.55,562.10)" font-size="9.3" text-anchor="middle" fill="#161616">51</text>
<text transform="translate(133.72,562.10)" font-size="9.3" text-anchor="middle" fill="#161616">46</text>
<text transform="translate(147.90,562.10)" font-size="9.3" text-anchor="middle" fill="#161616">39</text>
<text transform="translate(162.07,562.10)" font-size="9.3" text-anchor="middle" fill="#161616">36</text>
<text transform="translate(176.25,562.10)" font-size="9.3" text-anchor="middle" fill="#161616">30</text>
<text transform="translate(190.43,562.10)" font-size="9.3" text-anchor="middle" fill="#161616">29</text>
<text transform="translate(204.60,562.10)" font-size="9.3" text-anchor="middle" fill="#161616">21</text>
<text transform="translate(91.20,575.60)" font-size="9.3" text-anchor="middle" fill="#161616">28</text>
<text transform="translate(105.38,575.60)" font-size="9.3" text-anchor="middle" fill="#161616">23</text>
<text transform="translate(119.55,575.60)" font-size="9.3" text-anchor="middle" fill="#161616">17</text>
<text transform="translate(133.72,575.60)" font-size="9.3" text-anchor="middle" fill="#161616">15</text>
<text transform="translate(147.90,575.60)" font-size="9.3" text-anchor="middle" fill="#161616">14</text>
<text transform="translate(162.07,575.60)" font-size="9.3" text-anchor="middle" fill="#161616">12</text>
<text transform="translate(176.25,575.60)" font-size="9.3" text-anchor="middle" fill="#161616">11</text>
<text transform="translate(190.43,575.60)" font-size="9.3" text-anchor="middle" fill="#161616">10</text>
<text transform="translate(204.60,575.60)" font-size="9.3" text-anchor="middle" fill="#161616">8</text>
<text transform="translate(91.20,589.00)" font-size="9.3" text-anchor="middle" fill="#161616">20</text>
<text transform="translate(105.38,589.00)" font-size="9.3" text-anchor="middle" fill="#161616">19</text>
<text transform="translate(119.55,589.00)" font-size="9.3" text-anchor="middle" fill="#161616">17</text>
<text transform="translate(133.72,589.00)" font-size="9.3" text-anchor="middle" fill="#161616">14</text>
<text transform="translate(147.90,589.00)" font-size="9.3" text-anchor="middle" fill="#161616">12</text>
<text transform="translate(162.07,589.00)" font-size="9.3" text-anchor="middle" fill="#161616">10</text>
<text transform="translate(176.25,589.00)" font-size="9.3" text-anchor="middle" fill="#161616">9</text>
<text transform="translate(190.43,589.00)" font-size="9.3" text-anchor="middle" fill="#161616">9</text>
<text transform="translate(204.60,589.00)" font-size="9.3" text-anchor="middle" fill="#161616">9</text>
<text transform="translate(46.00,564.40)" font-size="9.2" text-anchor="middle" fill="#161616">undetectable</text>
<text transform="translate(46.00,575.40)" font-size="9.2" text-anchor="middle" fill="#161616">0.01-9.99 ng/mL</text>
<text transform="translate(46.00,586.40)" font-size="9.2" text-anchor="middle" fill="#161616">10.0 ng/mL</text>
<line x1="116.01" y1="461.34" x2="116.01" y2="463.04" stroke="#1f3a72" stroke-width="0.8"/>
<line x1="119.55" y1="461.34" x2="119.55" y2="463.04" stroke="#1f3a72" stroke-width="0.8"/>
<line x1="121.91" y1="461.34" x2="121.91" y2="463.04" stroke="#1f3a72" stroke-width="0.8"/>
<line x1="125.46" y1="461.34" x2="125.46" y2="463.04" stroke="#1f3a72" stroke-width="0.8"/>
<line x1="136.09" y1="454.73" x2="136.09" y2="456.43" stroke="#1f3a72" stroke-width="0.8"/>
<line x1="138.45" y1="454.73" x2="138.45" y2="456.43" stroke="#1f3a72" stroke-width="0.8"/>
<line x1="140.81" y1="454.73" x2="140.81" y2="456.43" stroke="#1f3a72" stroke-width="0.8"/>
<line x1="143.18" y1="454.73" x2="143.18" y2="456.43" stroke="#1f3a72" stroke-width="0.8"/>
<line x1="145.54" y1="454.73" x2="145.54" y2="456.43" stroke="#1f3a72" stroke-width="0.8"/>
<line x1="147.90" y1="454.73" x2="147.90" y2="456.43" stroke="#1f3a72" stroke-width="0.8"/>
<line x1="150.26" y1="454.73" x2="150.26" y2="456.43" stroke="#1f3a72" stroke-width="0.8"/>
<line x1="152.62" y1="454.73" x2="152.62" y2="456.43" stroke="#1f3a72" stroke-width="0.8"/>
<line x1="154.99" y1="454.73" x2="154.99" y2="456.43" stroke="#1f3a72" stroke-width="0.8"/>
<line x1="157.35" y1="454.73" x2="157.35" y2="456.43" stroke="#1f3a72" stroke-width="0.8"/>
<line x1="170.34" y1="447.56" x2="170.34" y2="449.26" stroke="#1f3a72" stroke-width="0.8"/>
<line x1="173.89" y1="447.56" x2="173.89" y2="449.26" stroke="#1f3a72" stroke-width="0.8"/>
<line x1="176.25" y1="447.56" x2="176.25" y2="449.26" stroke="#1f3a72" stroke-width="0.8"/>
<line x1="178.61" y1="447.56" x2="178.61" y2="449.26" stroke="#1f3a72" stroke-width="0.8"/>
<line x1="180.97" y1="447.56" x2="180.97" y2="449.26" stroke="#1f3a72" stroke-width="0.8"/>
<line x1="183.34" y1="447.56" x2="183.34" y2="449.26" stroke="#1f3a72" stroke-width="0.8"/>
<line x1="185.70" y1="447.56" x2="185.70" y2="449.26" stroke="#1f3a72" stroke-width="0.8"/>
<line x1="188.06" y1="447.56" x2="188.06" y2="449.26" stroke="#1f3a72" stroke-width="0.8"/>
<line x1="190.43" y1="447.56" x2="190.43" y2="449.26" stroke="#1f3a72" stroke-width="0.8"/>
<line x1="192.79" y1="447.56" x2="192.79" y2="449.26" stroke="#1f3a72" stroke-width="0.8"/>
<line x1="195.15" y1="447.56" x2="195.15" y2="449.26" stroke="#1f3a72" stroke-width="0.8"/>
<line x1="197.51" y1="447.56" x2="197.51" y2="449.26" stroke="#1f3a72" stroke-width="0.8"/>
<line x1="199.88" y1="447.56" x2="199.88" y2="449.26" stroke="#1f3a72" stroke-width="0.8"/>
<line x1="202.24" y1="447.56" x2="202.24" y2="449.26" stroke="#1f3a72" stroke-width="0.8"/>
<line x1="133.72" y1="445.30" x2="133.72" y2="447.00" stroke="#5e2a6c" stroke-width="0.8"/>
<line x1="154.99" y1="445.30" x2="154.99" y2="447.00" stroke="#5e2a6c" stroke-width="0.8"/>
<line x1="173.89" y1="445.30" x2="173.89" y2="447.00" stroke="#5e2a6c" stroke-width="0.8"/>
<line x1="180.97" y1="445.30" x2="180.97" y2="447.00" stroke="#5e2a6c" stroke-width="0.8"/>
<line x1="188.06" y1="445.30" x2="188.06" y2="447.00" stroke="#5e2a6c" stroke-width="0.8"/>
<line x1="192.79" y1="445.30" x2="192.79" y2="447.00" stroke="#5e2a6c" stroke-width="0.8"/>
<line x1="195.15" y1="445.30" x2="195.15" y2="447.00" stroke="#5e2a6c" stroke-width="0.8"/>
<line x1="197.51" y1="445.30" x2="197.51" y2="447.00" stroke="#5e2a6c" stroke-width="0.8"/>
<line x1="199.88" y1="445.30" x2="199.88" y2="447.00" stroke="#5e2a6c" stroke-width="0.8"/>
<line x1="202.24" y1="445.30" x2="202.24" y2="447.00" stroke="#5e2a6c" stroke-width="0.8"/>
<line x1="103.01" y1="504.00" x2="103.01" y2="505.70" stroke="#be1440" stroke-width="0.8"/>
<line x1="106.56" y1="504.00" x2="106.56" y2="505.70" stroke="#be1440" stroke-width="0.8"/>
<line x1="110.10" y1="504.00" x2="110.10" y2="505.70" stroke="#be1440" stroke-width="0.8"/>
<line x1="114.83" y1="504.00" x2="114.83" y2="505.70" stroke="#be1440" stroke-width="0.8"/>
<line x1="133.72" y1="493.24" x2="133.72" y2="494.94" stroke="#be1440" stroke-width="0.8"/>
<line x1="138.45" y1="493.24" x2="138.45" y2="494.94" stroke="#be1440" stroke-width="0.8"/>
<line x1="143.18" y1="493.24" x2="143.18" y2="494.94" stroke="#be1440" stroke-width="0.8"/>
<text transform="translate(289.40,417.70)" font-size="12.4" font-weight="bold" fill="#000">F</text>
<text transform="translate(391.40,424.80)" font-size="8.8" fill="#161616" textLength="47.60" lengthAdjust="spacingAndGlyphs">R<tspan dy="-3.2" font-size="5.8">2</tspan><tspan dy="3.2"> = 0.0001</tspan></text>
<text transform="translate(396.30,435.00)" font-size="8.8" fill="#161616" textLength="37.80" lengthAdjust="spacingAndGlyphs">F = 0.014</text>
<text transform="translate(398.40,446.30)" font-size="8.8" fill="#161616" textLength="32.80" lengthAdjust="spacingAndGlyphs"><tspan font-style="italic">P</tspan> = 0.91</text>
<line x1="350.40" y1="453.10" x2="350.40" y2="543.60" stroke="#000" stroke-width="1.1"/>
<line x1="346.90" y1="543.10" x2="483.70" y2="543.10" stroke="#000" stroke-width="1.1"/>
<line x1="347.00" y1="543.10" x2="350.40" y2="543.10" stroke="#000" stroke-width="1"/>
<text transform="translate(343.30,546.00) scale(0.84,1)" font-size="10.3" text-anchor="end" fill="#161616">0</text>
<line x1="347.00" y1="521.40" x2="350.40" y2="521.40" stroke="#000" stroke-width="1"/>
<text transform="translate(343.30,524.30) scale(0.84,1)" font-size="10.3" text-anchor="end" fill="#161616">20</text>
<line x1="347.00" y1="499.70" x2="350.40" y2="499.70" stroke="#000" stroke-width="1"/>
<text transform="translate(343.30,502.60) scale(0.84,1)" font-size="10.3" text-anchor="end" fill="#161616">40</text>
<line x1="347.00" y1="478.00" x2="350.40" y2="478.00" stroke="#000" stroke-width="1"/>
<text transform="translate(343.30,480.90) scale(0.84,1)" font-size="10.3" text-anchor="end" fill="#161616">60</text>
<line x1="347.00" y1="456.30" x2="350.40" y2="456.30" stroke="#000" stroke-width="1"/>
<text transform="translate(343.30,459.20) scale(0.84,1)" font-size="10.3" text-anchor="end" fill="#161616">80</text>
<line x1="350.40" y1="543.10" x2="350.40" y2="546.20" stroke="#000" stroke-width="1"/>
<text transform="translate(350.40,557.30) scale(0.9,1)" font-size="9.4" text-anchor="middle" fill="#161616">0</text>
<line x1="383.07" y1="543.10" x2="383.07" y2="546.20" stroke="#000" stroke-width="1"/>
<text transform="translate(383.07,557.30) scale(0.9,1)" font-size="9.4" text-anchor="middle" fill="#161616">1</text>
<line x1="415.74" y1="543.10" x2="415.74" y2="546.20" stroke="#000" stroke-width="1"/>
<text transform="translate(415.74,557.30) scale(0.9,1)" font-size="9.4" text-anchor="middle" fill="#161616">2</text>
<line x1="448.41" y1="543.10" x2="448.41" y2="546.20" stroke="#000" stroke-width="1"/>
<text transform="translate(448.41,557.30) scale(0.9,1)" font-size="9.4" text-anchor="middle" fill="#161616">3</text>
<line x1="481.08" y1="543.10" x2="481.08" y2="546.20" stroke="#000" stroke-width="1"/>
<text transform="translate(481.08,557.30) scale(0.9,1)" font-size="9.4" text-anchor="middle" fill="#161616">4</text>
<text transform="translate(416.00,572.30)" font-size="10.4" text-anchor="middle" fill="#161616" textLength="98.80" lengthAdjust="spacingAndGlyphs">Circulating TF-MV (pg/mL)</text>
<text transform="translate(314.70,499.90) rotate(-90)" font-size="10.4" text-anchor="middle" fill="#161616" textLength="88.40" lengthAdjust="spacingAndGlyphs">Circulating podoplanin</text>
<text transform="translate(326.60,499.40) rotate(-90)" font-size="10.4" text-anchor="middle" fill="#161616" textLength="30.40" lengthAdjust="spacingAndGlyphs">(ng/mL)</text>
<line x1="351.90" y1="536.50" x2="454.80" y2="536.50" stroke="#4f93b8" stroke-width="1.2"/>
<circle cx="350.40" cy="470.41" r="1.85" fill="#bb1535"/>
<circle cx="350.40" cy="474.20" r="1.85" fill="#bb1535"/>
<circle cx="350.40" cy="502.41" r="1.85" fill="#bb1535"/>
<circle cx="350.40" cy="507.30" r="1.85" fill="#bb1535"/>
<circle cx="350.40" cy="512.18" r="1.85" fill="#bb1535"/>
<circle cx="350.40" cy="513.81" r="1.85" fill="#bb1535"/>
<circle cx="350.40" cy="530.08" r="1.85" fill="#bb1535"/>
<circle cx="350.40" cy="531.71" r="1.85" fill="#bb1535"/>
<circle cx="350.40" cy="536.59" r="1.85" fill="#bb1535"/>
<circle cx="350.40" cy="538.76" r="1.85" fill="#bb1535"/>
<circle cx="350.40" cy="540.93" r="1.85" fill="#bb1535"/>
<circle cx="350.40" cy="543.10" r="1.85" fill="#bb1535"/>
<circle cx="370.00" cy="487.77" r="1.85" fill="#bb1535"/>
<circle cx="378.82" cy="478.00" r="1.85" fill="#bb1535"/>
<circle cx="376.54" cy="482.88" r="1.85" fill="#bb1535"/>
<circle cx="381.11" cy="493.19" r="1.85" fill="#bb1535"/>
<circle cx="383.07" cy="495.90" r="1.85" fill="#bb1535"/>
<circle cx="380.46" cy="508.92" r="1.85" fill="#bb1535"/>
<circle cx="385.36" cy="505.67" r="1.85" fill="#bb1535"/>
<circle cx="410.19" cy="519.77" r="1.85" fill="#bb1535"/>
<circle cx="356.28" cy="538.76" r="1.85" fill="#bb1535"/>
<circle cx="377.19" cy="529.00" r="1.85" fill="#bb1535"/>
<circle cx="379.80" cy="529.00" r="1.85" fill="#bb1535"/>
<circle cx="376.54" cy="534.96" r="1.85" fill="#bb1535"/>
<circle cx="422.27" cy="538.22" r="1.85" fill="#bb1535"/>
<circle cx="432.73" cy="534.96" r="1.85" fill="#bb1535"/>
<circle cx="444.16" cy="512.18" r="1.85" fill="#bb1535"/>
<circle cx="363.47" cy="543.10" r="1.85" fill="#bb1535"/>
<circle cx="366.73" cy="543.10" r="1.85" fill="#bb1535"/>
<circle cx="368.37" cy="542.56" r="1.85" fill="#bb1535"/>
<circle cx="370.00" cy="541.47" r="1.85" fill="#bb1535"/>
<circle cx="371.64" cy="540.39" r="1.85" fill="#bb1535"/>
<circle cx="373.27" cy="538.76" r="1.85" fill="#bb1535"/>
<circle cx="373.92" cy="543.10" r="1.85" fill="#bb1535"/>
<circle cx="374.90" cy="542.01" r="1.85" fill="#bb1535"/>
<circle cx="376.54" cy="543.10" r="1.85" fill="#bb1535"/>
<circle cx="378.17" cy="542.56" r="1.85" fill="#bb1535"/>
<circle cx="379.80" cy="541.47" r="1.85" fill="#bb1535"/>
<circle cx="381.44" cy="543.10" r="1.85" fill="#bb1535"/>
<circle cx="383.07" cy="543.10" r="1.85" fill="#bb1535"/>
<circle cx="384.70" cy="542.01" r="1.85" fill="#bb1535"/>
<circle cx="386.34" cy="542.56" r="1.85" fill="#bb1535"/>
<circle cx="387.97" cy="543.10" r="1.85" fill="#bb1535"/>
<circle cx="392.87" cy="543.10" r="1.85" fill="#bb1535"/>
<circle cx="396.14" cy="543.10" r="1.85" fill="#bb1535"/>
<circle cx="399.40" cy="543.10" r="1.85" fill="#bb1535"/>
<circle cx="402.67" cy="543.10" r="1.85" fill="#bb1535"/>
<circle cx="405.94" cy="543.10" r="1.85" fill="#bb1535"/>
<circle cx="409.21" cy="543.10" r="1.85" fill="#bb1535"/>
<circle cx="423.91" cy="543.10" r="1.85" fill="#bb1535"/>
<circle cx="436.98" cy="543.10" r="1.85" fill="#bb1535"/>
<circle cx="439.26" cy="543.10" r="1.85" fill="#bb1535"/>
<circle cx="454.94" cy="543.10" r="1.85" fill="#bb1535"/>
</svg>
</body></html>
